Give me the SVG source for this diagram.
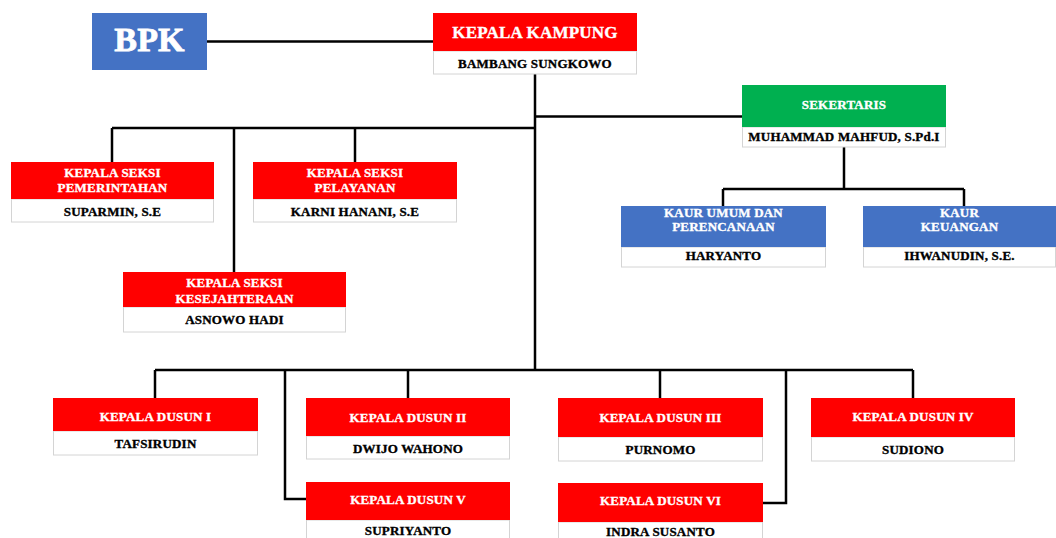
<svg xmlns="http://www.w3.org/2000/svg" width="1056" height="538" viewBox="0 0 1056 538">
<style>
.red{fill:#FF0000}
.blue{fill:#4472C4}
.green{fill:#00B050}
.wh{fill:#FFFFFF;stroke:#D4D4D4;stroke-width:1}
.t{font-family:"Liberation Serif","Times New Roman",serif;font-weight:bold;font-size:13px;fill:#FFFFFF;stroke:#FFFFFF;stroke-width:0.35;text-anchor:middle;letter-spacing:0.2px}
.n{font-family:"Liberation Serif","Times New Roman",serif;font-weight:bold;font-size:13px;fill:#000000;stroke:#000000;stroke-width:0.35;text-anchor:middle;letter-spacing:0.2px}
.big{font-size:17px}
.conn path{fill:none;stroke:#000000;stroke-width:2.5}
</style>
<rect width="1056" height="538" fill="#FFFFFF"/>
<g class="conn" id="connectors">
<path d="M207 41.5H433"/>
<path d="M535 74V370"/>
<path d="M535 116.5H742"/>
<path d="M112 128H535"/>
<path d="M112 128V162"/>
<path d="M234 128V272"/>
<path d="M355 128V162"/>
<path d="M844 147V189"/>
<path d="M723 189H964"/>
<path d="M723 189V206"/>
<path d="M964 189V206"/>
<path d="M155 370H913"/>
<path d="M155 370V398"/>
<path d="M408 370V398"/>
<path d="M660 370V398"/>
<path d="M913 370V398"/>
<path d="M285 370V499H306"/>
<path d="M786 370V503H763"/>
</g>
<g id="bpk">
<rect class="blue" x="92" y="13" width="115" height="57"/>
<text class="t" x="149.5" y="51" style="font-size:34px;stroke-width:0.8">BPK</text>
</g>
<g id="kepala-kampung">
<rect class="wh" x="433.5" y="51" width="203" height="23"/>
<rect class="red" x="433" y="13" width="204" height="38"/>
<text class="t big" x="535" y="38">KEPALA KAMPUNG</text>
<text class="n" x="535" y="68">BAMBANG SUNGKOWO</text>
</g>
<g id="sekertaris">
<rect class="wh" x="742.5" y="127" width="203" height="20"/>
<rect class="green" x="742" y="85" width="204" height="42"/>
<text class="t" x="844" y="109">SEKERTARIS</text>
<text class="n" x="844" y="141">MUHAMMAD MAHFUD, S.Pd.I</text>
</g>
<g id="kaur-umum">
<rect class="wh" x="621.5" y="247" width="204" height="20"/>
<rect class="blue" x="621" y="206" width="205" height="41"/>
<text class="t" x="723.5" y="217">KAUR UMUM DAN</text>
<text class="t" x="723.5" y="231">PERENCANAAN</text>
<text class="n" x="723.5" y="260">HARYANTO</text>
</g>
<g id="kaur-keuangan">
<rect class="wh" x="863.5" y="247" width="192" height="20"/>
<rect class="blue" x="863" y="206" width="193" height="41"/>
<text class="t" x="959.5" y="217">KAUR</text>
<text class="t" x="959.5" y="231">KEUANGAN</text>
<text class="n" x="959.5" y="260">IHWANUDIN, S.E.</text>
</g>
<g id="seksi-pemerintahan">
<rect class="wh" x="11.5" y="199" width="202" height="23"/>
<rect class="red" x="11" y="162" width="203" height="37"/>
<text class="t" x="112.5" y="177">KEPALA SEKSI</text>
<text class="t" x="112.5" y="192">PEMERINTAHAN</text>
<text class="n" x="112.5" y="216">SUPARMIN, S.E</text>
</g>
<g id="seksi-pelayanan">
<rect class="wh" x="253.5" y="199" width="203" height="23"/>
<rect class="red" x="253" y="162" width="204" height="37"/>
<text class="t" x="355" y="177">KEPALA SEKSI</text>
<text class="t" x="355" y="192">PELAYANAN</text>
<text class="n" x="355" y="216">KARNI HANANI, S.E</text>
</g>
<g id="seksi-kesejahteraan">
<rect class="wh" x="123.5" y="307" width="222" height="25"/>
<rect class="red" x="123" y="272" width="223" height="35"/>
<text class="t" x="234.5" y="287">KEPALA SEKSI</text>
<text class="t" x="234.5" y="302.5">KESEJAHTERAAN</text>
<text class="n" x="234.5" y="324">ASNOWO HADI</text>
</g>
<g id="dusun-1">
<rect class="wh" x="53.5" y="431" width="204" height="24"/>
<rect class="red" x="53" y="398" width="205" height="33"/>
<text class="t" x="155.5" y="421">KEPALA DUSUN I</text>
<text class="n" x="155.5" y="448">TAFSIRUDIN</text>
</g>
<g id="dusun-2">
<rect class="wh" x="306.5" y="436" width="203" height="23"/>
<rect class="red" x="306" y="398" width="204" height="38"/>
<text class="t" x="408" y="421.5">KEPALA DUSUN II</text>
<text class="n" x="408" y="453">DWIJO WAHONO</text>
</g>
<g id="dusun-3">
<rect class="wh" x="558.5" y="437" width="204" height="24"/>
<rect class="red" x="558" y="398" width="205" height="39"/>
<text class="t" x="660.5" y="422">KEPALA DUSUN III</text>
<text class="n" x="660.5" y="454">PURNOMO</text>
</g>
<g id="dusun-4">
<rect class="wh" x="811.5" y="437" width="203" height="24"/>
<rect class="red" x="811" y="398" width="204" height="39"/>
<text class="t" x="913" y="421">KEPALA DUSUN IV</text>
<text class="n" x="913" y="454">SUDIONO</text>
</g>
<g id="dusun-5">
<rect class="wh" x="306.5" y="520" width="203" height="22"/>
<rect class="red" x="306" y="482" width="204" height="38"/>
<text class="t" x="408" y="504">KEPALA DUSUN V</text>
<text class="n" x="408" y="535">SUPRIYANTO</text>
</g>
<g id="dusun-6">
<rect class="wh" x="558.5" y="522" width="204" height="20"/>
<rect class="red" x="558" y="483" width="205" height="39"/>
<text class="t" x="660.5" y="505">KEPALA DUSUN VI</text>
<text class="n" x="660.5" y="536">INDRA SUSANTO</text>
</g>
</svg>
